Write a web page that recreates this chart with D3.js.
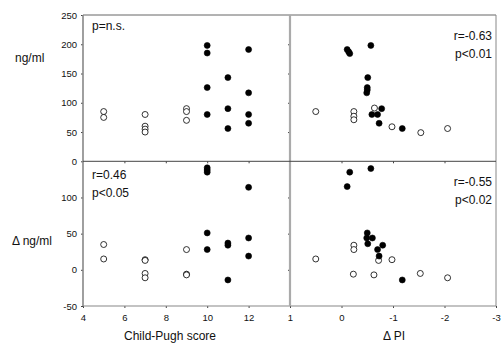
<!DOCTYPE html>
<html>
<head>
<meta charset="utf-8">
<script src="https://cdn.jsdelivr.net/npm/d3@7"></script>
<style>
  html, body { margin: 0; padding: 0; background: #fff; }
  svg { display: block; font-family: "Liberation Sans", Arial, Helvetica, sans-serif; }
</style>
</head>
<body>
<svg id="chart" width="504" height="351"></svg>
<script>
// Child-Pugh score panels (left): [score, value]
const cpLevelOpen   = [[5,85],[5,75],[7,80],[7,60],[7,55],[7,50],[9,90],[9,85],[9,70]];
const cpLevelFilled = [[10,198],[10,185],[10,126],[10,80],[11,143],[11,90],[11,56],[12,191],[12,117],[12,80],[12,65]];
const cpDeltaOpen   = [[5,35],[5,15],[7,14],[7,13],[7,-5],[7,-11],[9,28],[9,-6],[9,-7]];
const cpDeltaFilled = [[10,141],[10,138],[10,135],[10,51],[10,28],[11,37],[11,34],[11,-14],[12,114],[12,44],[12,19]];

// Delta PI panels (right): [deltaPI, value]
const piLevelOpen   = [[0.5,85],[-0.24,85],[-0.24,77],[-0.24,71],[-0.64,91],[-0.98,59],[-1.54,49],[-2.06,56]];
const piLevelFilled = [[-0.11,191],[-0.14,187],[-0.16,184],[-0.57,198],[-0.51,143],[-0.5,126],[-0.5,122],[-0.49,117],
                       [-0.59,80],[-0.7,80],[-0.78,90],[-0.73,65],[-1.18,56]];
const piDeltaOpen   = [[0.5,15],[-0.24,34],[-0.24,28],[-0.23,-6],[-0.63,-7],[-0.72,13],[-0.98,14],[-1.53,-5],[-2.06,-11]];
const piDeltaFilled = [[-0.16,135],[-0.11,115],[-0.57,140],[-0.5,51],[-0.49,44],[-0.6,44],[-0.51,36],
                       [-0.7,28],[-0.8,34],[-0.73,19],[-1.18,-14]];

// Tick labels
const cpTicks = [4, 6, 8, 10, 12];
const piTicks = [1, 0, -1, -2, -3];
const levelTicks = [0, 50, 100, 150, 200, 250];
const deltaTicks = [-50, 0, 50, 100];

// Annotations
const notes = {
  tl: ["p=n.s."],
  bl: ["r=0.46", "p<0.05"],
  tr: ["r=-0.63", "p<0.01"],
  br: ["r=-0.55", "p<0.02"]
};

const svg = d3.select("#chart");
const L = 83, M = 290, R = 496, T = 15, Mid = 161.3, B = 306;

const xCP = d3.scaleLinear().domain([4, 14]).range([L, M]);
const xPI = d3.scaleLinear().domain([1, -3]).range([M, R]);
const yLevel = d3.scaleLinear().domain([0, 250]).range([Mid, T]);
const yDelta = d3.scaleLinear().domain([-50, 150]).range([B, Mid]);

const fmt = d => String(d);
const axisColor = "#666";

function styleAxis(g, fontSize) {
  g.select(".domain").remove();
  g.selectAll(".tick line").attr("stroke", "#444").attr("stroke-width", 1);
  g.selectAll(".tick text").attr("fill", "#111").attr("font-size", fontSize)
    .attr("font-family", "'Liberation Sans', Arial, sans-serif");
}

// Y axes (left side)
svg.append("g").attr("transform", `translate(${L},0)`)
  .call(d3.axisLeft(yLevel).tickValues(levelTicks).tickFormat(fmt).tickSize(2).tickPadding(4))
  .call(g => styleAxis(g, 9.5));
svg.append("g").attr("transform", `translate(${L},0)`)
  .call(d3.axisLeft(yDelta).tickValues(deltaTicks).tickFormat(fmt).tickSize(2).tickPadding(4))
  .call(g => styleAxis(g, 9.5));

// Y ticks on the middle divider for the right panels
svg.append("g").attr("transform", `translate(${M},0)`)
  .call(d3.axisLeft(yLevel).tickValues([50, 100, 150, 200]).tickFormat("").tickSize(2))
  .call(g => styleAxis(g, 9));
svg.append("g").attr("transform", `translate(${M},0)`)
  .call(d3.axisLeft(yDelta).tickValues([0, 50, 100]).tickFormat("").tickSize(2))
  .call(g => styleAxis(g, 9));

// X axes
svg.append("g").attr("transform", `translate(0,${B})`)
  .call(d3.axisBottom(xCP).tickValues(cpTicks).tickFormat(fmt).tickSize(2).tickPadding(6))
  .call(g => styleAxis(g, 9.5));
svg.append("g").attr("transform", `translate(0,${B})`)
  .call(d3.axisBottom(xPI).tickValues(piTicks).tickFormat(fmt).tickSize(2).tickPadding(6))
  .call(g => styleAxis(g, 9.5));
svg.append("g").attr("transform", `translate(0,${Mid})`)
  .call(d3.axisBottom(xCP).tickValues([6, 8, 10, 12]).tickFormat("").tickSize(2))
  .call(g => styleAxis(g, 9));
svg.append("g").attr("transform", `translate(0,${Mid})`)
  .call(d3.axisBottom(xPI).tickValues([0, -1, -2]).tickFormat("").tickSize(2))
  .call(g => styleAxis(g, 9));

// Frame and dividers
const frame = svg.append("g").attr("fill", "none");
frame.append("line").attr("x1", L).attr("x2", R).attr("y1", T).attr("y2", T)
  .attr("stroke", axisColor).attr("stroke-width", 1);
frame.append("line").attr("x1", R).attr("x2", R).attr("y1", T).attr("y2", B)
  .attr("stroke", "#888").attr("stroke-width", 1);
frame.append("line").attr("x1", L).attr("x2", R).attr("y1", B).attr("y2", B)
  .attr("stroke", "#888").attr("stroke-width", 1.2);
frame.append("line").attr("x1", L).attr("x2", L).attr("y1", T).attr("y2", B)
  .attr("stroke", "#888").attr("stroke-width", 1.6);
frame.append("line").attr("x1", M).attr("x2", M).attr("y1", T).attr("y2", B)
  .attr("stroke", "#aaa").attr("stroke-width", 2.2);
frame.append("line").attr("x1", L).attr("x2", R).attr("y1", Mid).attr("y2", Mid)
  .attr("stroke", "#444").attr("stroke-width", 1);

// Points
function plot(data, x, y, filled) {
  svg.append("g").selectAll("circle").data(data).join("circle")
    .attr("cx", d => x(d[0])).attr("cy", d => y(d[1])).attr("r", 3)
    .attr("fill", filled ? "#000" : "#fff")
    .attr("stroke", "#000").attr("stroke-width", filled ? 0.6 : 0.8);
}
plot(cpLevelOpen, xCP, yLevel, false);
plot(cpLevelFilled, xCP, yLevel, true);
plot(cpDeltaOpen, xCP, yDelta, false);
plot(cpDeltaFilled, xCP, yDelta, true);
plot(piLevelOpen, xPI, yLevel, false);
plot(piLevelFilled, xPI, yLevel, true);
plot(piDeltaOpen, xPI, yDelta, false);
plot(piDeltaFilled, xPI, yDelta, true);

// Annotations
function note(lines, x, y0, anchor) {
  lines.forEach((t, i) => {
    svg.append("text").attr("x", x).attr("y", y0 + i * 17.5)
      .attr("text-anchor", anchor).attr("font-size", 12).attr("fill", "#111").text(t);
  });
}
note(notes.tl, 92, 30, "start");
note(notes.bl, 92, 179, "start");
note(notes.tr, 492, 40, "end");
note(notes.br, 492, 186, "end");

// Axis titles
svg.append("text").attr("x", 15).attr("y", 62).attr("font-size", 12).attr("fill", "#111").text("ng/ml");
svg.append("text").attr("x", 12).attr("y", 245).attr("font-size", 12).attr("fill", "#111").text("Δ ng/ml");
svg.append("text").attr("x", 170).attr("y", 340).attr("text-anchor", "middle")
  .attr("font-size", 12).attr("fill", "#111").text("Child-Pugh score");
svg.append("text").attr("x", 394).attr("y", 340).attr("text-anchor", "middle")
  .attr("font-size", 12).attr("fill", "#111").text("Δ PI");
</script>
</body>
</html>
